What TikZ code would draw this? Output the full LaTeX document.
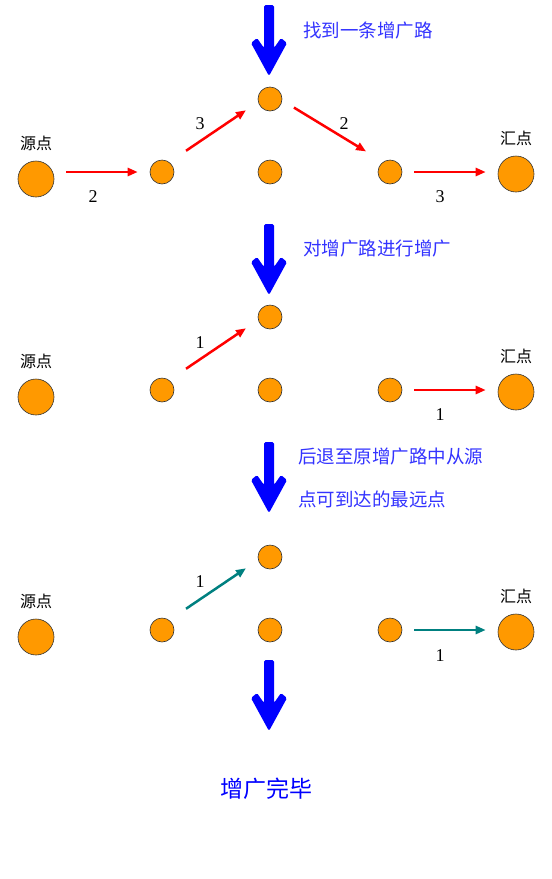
\documentclass[tikz,border=0pt]{standalone}
\usepackage{fontspec}
\setmainfont{Liberation Serif}
\newfontfamily\cjk{Noto Sans CJK SC}
\usetikzlibrary{arrows.meta, positioning}
\definecolor{flowred}{RGB}{255,0,0}
\definecolor{flowteal}{RGB}{0,128,128}
\definecolor{steptext}{RGB}{51,51,255}
\definecolor{nodeorange}{RGB}{255,153,0}

\begin{document}
\begin{tikzpicture}[x=1pt, y=-1pt]
			\tikzstyle{vertex}=[
			draw=black!80,
			fill=nodeorange,
			circle,
			inner sep=0pt,
			line width=0.6pt,
			minimum size=24pt]
			\tikzstyle{terminal}=[vertex, minimum size=36pt]
			\tikzstyle{flow}=[-{Triangle[length=10pt,width=8pt]}, line width=2.5pt]
			\tikzstyle{capnum}=[font=\fontsize{18}{18}\selectfont, inner sep=0pt]
			\tikzstyle{tag}=[font=\cjk\fontsize{16}{16}\selectfont, inner sep=0pt]
			\tikzstyle{steptxt}=[font=\cjk\fontsize{18.5}{18.5}\selectfont, text=steptext, anchor=west, inner sep=0pt]
			\useasboundingbox (0,0) rectangle (552,879);
			%
			\foreach \y in {5,224,442,660}
				\fill[blue, rounded corners=1.5pt] (264,\y) -- (274,\y) -- (274,\y+43) -- (281,\y+33) -- (287,\y+38) -- (269,\y+71) -- (251,\y+38) -- (257,\y+33) -- (264,\y+43) -- cycle;
			%
			\foreach \i/\y in {1/172, 2/390, 3/630} {
				\node[terminal] (s\i) at (36,\y+7) {};
				\node[vertex] (a\i) at (162,\y) {};
				\node[vertex] (b\i) at (270,\y-73) {};
				\node[vertex] (c\i) at (270,\y) {};
				\node[vertex] (d\i) at (390,\y) {};
				\node[terminal] (t\i) at (516,\y+2) {};
				\node[tag, above=10pt of s\i] (sl\i) {源点};
				\node[tag, above=10pt of t\i] (tl\i) {汇点};
			}
			%
			\node[steptxt] (st1) at (303,31) {找到一条增广路};
			\node[steptxt] (st2) at (303,249) {对增广路进行增广};
			\node[steptxt] (st3) at (298,457) {后退至原增广路中从源};
			\node[steptxt] (st4) at (298,499) {点可到达的最远点};
			\node[font=\cjk\fontsize{23}{23}\selectfont, text=blue, inner sep=0pt] (done) at (266,789) {增广完毕};
			%
			\draw[flow, flowred, shorten <=12pt, shorten >=12pt] (s1.east |- a1.west) -- (a1.west);
			\draw[flow, flowred, shorten <=29pt, shorten >=29pt] ([yshift=5pt]a1.center) -- ([yshift=5pt]b1.center);
			\draw[flow, flowred, shorten <=28pt, shorten >=28pt] ([yshift=6pt]b1.center) -- ([yshift=6pt]d1.center);
			\draw[flow, flowred, shorten <=12pt, shorten >=12pt] (d1.east) -- (t1.west |- d1.east);
			\node[capnum] (f12) at (93,197) {2};
			\node[capnum] (f13) at (200,124) {3};
			\node[capnum] (f14) at (344,124) {2};
			\node[capnum] (f15) at (440,197) {3};
			%
			\draw[flow, flowred, shorten <=29pt, shorten >=29pt] ([yshift=5pt]a2.center) -- ([yshift=5pt]b2.center);
			\draw[flow, flowred, shorten <=12pt, shorten >=12pt] (d2.east) -- (t2.west |- d2.east);
			\node[capnum] (f23) at (200,343) {1};
			\node[capnum] (f25) at (440,415) {1};
			%
			\draw[flow, flowteal, shorten <=29pt, shorten >=29pt] ([yshift=5pt]a3.center) -- ([yshift=5pt]b3.center);
			\draw[flow, flowteal, shorten <=12pt, shorten >=12pt] (d3.east) -- (t3.west |- d3.east);
			\node[capnum] (f33) at (200,582) {1};
			\node[capnum] (f35) at (440,656) {1};
		\end{tikzpicture}
\end{document}
